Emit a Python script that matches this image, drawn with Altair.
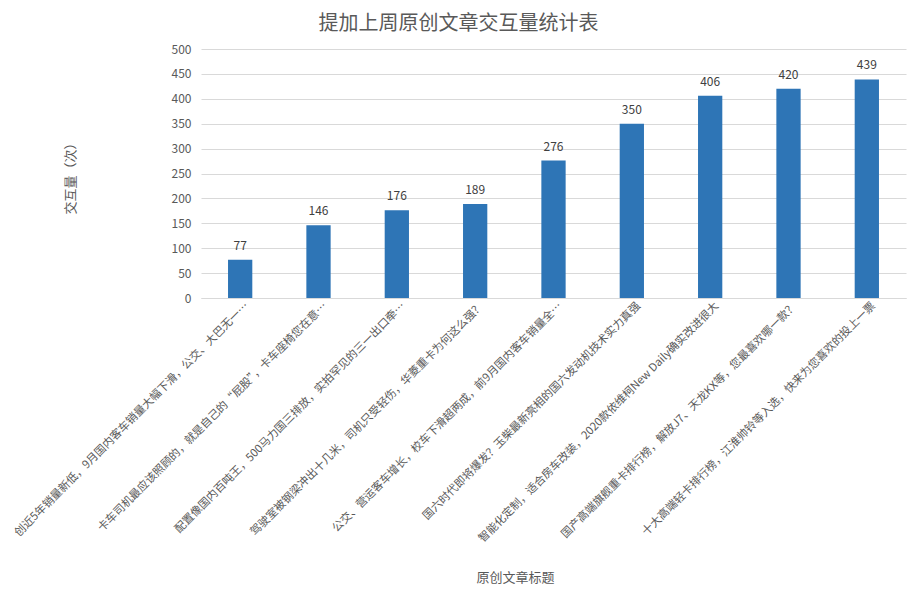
import altair as alt
import pandas as pd

titles = [
    "创近5年销量新低，9月国内客车销量大幅下滑，公交、大巴无一…",
    "卡车司机最应该照顾的，就是自己的“屁股”，卡车座椅您在意…",
    "配置像国内百吨王，500马力国三排放，实拍罕见的三一出口牵…",
    "驾驶室被钢梁冲出十几米，司机只受轻伤，华菱重卡为何这么强？",
    "公交、营运客车增长，校车下滑超两成，前9月国内客车销量全…",
    "国六时代即将爆发？玉柴最新亮相的国六发动机技术实力真强",
    "智能化定制，适合房车改装，2020款依维柯New Daily确实改进很大",
    "国产高端旗舰重卡排行榜，解放J7、天龙KX等，您最喜欢哪一款？",
    "十大高端轻卡排行榜，江淮帅铃等入选，快来为您喜欢的投上一票",
]
values = [77, 146, 176, 189, 276, 350, 406, 420, 439]
y_ticks = [0, 50, 100, 150, 200, 250, 300, 350, 400, 450, 500]

df = pd.DataFrame({"title": titles, "value": values})

FONT = "Noto Sans CJK SC"
GRAY = "#595959"

x = alt.X(
    "title:N",
    sort=None,
    scale=alt.Scale(paddingInner=0.69, paddingOuter=0.345),
    axis=alt.Axis(
        title="原创文章标题",
        titleX=314,
        titleY=279,
        titleAlign="center",
        titleBaseline="middle",
        titleFontSize=13,
        titleFontWeight="normal",
        titleColor=GRAY,
        titleFont=FONT,
        labelAngle=-45,
        labelAlign="right",
        labelBaseline="middle",
        labelPadding=6,
        labelOffset=7,
        labelLimit=400,
        labelOverlap=False,
        labelFontSize=11.2,
        labelColor=GRAY,
        labelFont=FONT,
        ticks=False,
        domainColor="#d9d9d9",
        grid=False,
    ),
)

y = alt.Y(
    "value:Q",
    scale=alt.Scale(domain=[0, 500], nice=False),
    axis=alt.Axis(
        title="交互量（次）",
        titleX=-131,
        titleY=126,
        titleAngle=-90,
        titleAlign="center",
        titleBaseline="middle",
        titleFontSize=13,
        titleFontWeight="normal",
        titleColor=GRAY,
        titleFont=FONT,
        values=y_ticks,
        labelOverlap=False,
        labelPadding=10,
        labelFontSize=12,
        labelColor=GRAY,
        labelFont=FONT,
        ticks=False,
        domain=False,
        gridColor="#d9d9d9",
    ),
)

bars = alt.Chart(df).mark_bar(color="#2e75b6").encode(x=x, y=y)
labels = alt.Chart(df).mark_text(
    baseline="bottom", dy=-7, fontSize=12, color="#404040", font=FONT
).encode(x=x, y=y, text="value:Q")

chart = (
    alt.layer(bars, labels)
    .properties(
        width=705,
        height=249,
        autosize=alt.AutoSizeParams(type="none"),
        padding={"left": 193, "top": 41, "right": 5, "bottom": 290},
        title=alt.TitleParams(
            "提加上周原创文章交互量统计表",
            anchor="middle",
            dx=-95,
            offset=9,
            fontSize=20,
            fontWeight="normal",
            color=GRAY,
            font=FONT,
        ),
    )
    .configure_view(stroke=None)
)

chart.save("out.html", embed_options={"renderer": "svg", "actions": False})
